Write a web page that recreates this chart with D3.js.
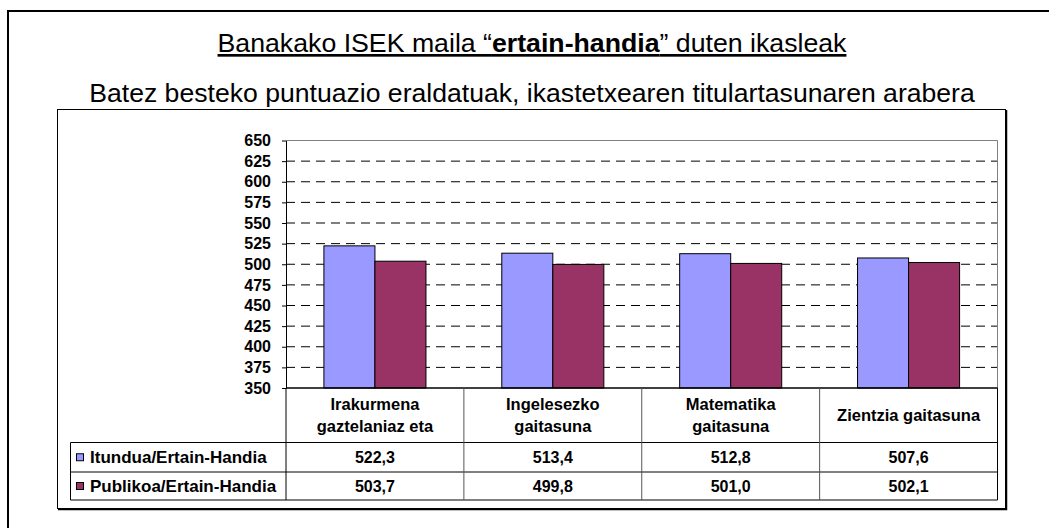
<!DOCTYPE html>
<html>
<head>
<meta charset="utf-8">
<script src="https://cdn.jsdelivr.net/npm/d3@7"></script>
<style>
  body { margin: 0; background: #fff; }
  svg { display: block; }
  text { font-family: "Liberation Sans", Arial, sans-serif; }
</style>
</head>
<body>
<svg id="chart" width="1049" height="528"></svg>
<script>
// data
var categories = [["Irakurmena", "gaztelaniaz eta"], ["Ingelesezko", "gaitasuna"], ["Matematika", "gaitasuna"], ["Zientzia gaitasuna"]];
var seriesNames = ["Itundua/Ertain-Handia", "Publikoa/Ertain-Handia"];
var itundua = [522.3, 513.4, 512.8, 507.6];
var publikoa = [503.7, 499.8, 501.0, 502.1];
var yTicks = [350, 375, 400, 425, 450, 475, 500, 525, 550, 575, 600, 625, 650];
var colors = ["#9999ff", "#993366"];

var series = [itundua, publikoa];
var catIdx = categories.map(function(d, i){ return i; });

var svg = d3.select('#chart');
svg.append('rect').attr('width', 1049).attr('height', 528).attr('fill', '#fff');

// outer frame (cut off at right/bottom)
svg.append('path').attr('d', 'M8,540 V11 H1060')
  .attr('fill', 'none').attr('stroke', '#000').attr('stroke-width', 2);

// titles
var title = svg.append('text').attr('x', 532).attr('y', 52).attr('text-anchor', 'middle')
  .style('font-size', '26.7px').style('text-decoration', 'underline');
title.append('tspan').text('Banakako ISEK maila “');
title.append('tspan').style('font-weight', 'bold').text('ertain-handia');
title.append('tspan').text('” duten ikasleak');

svg.append('text').attr('x', 532).attr('y', 102).attr('text-anchor', 'middle')
  .style('font-size', '26.6px').text('Batez besteko puntuazio eraldatuak, ikastetxearen titulartasunaren arabera');

// chart area box
svg.append('rect').attr('x', 57.5).attr('y', 109.5).attr('width', 948).attr('height', 399)
  .attr('fill', '#fff').attr('stroke', '#000').attr('stroke-width', 1);
svg.append('path').attr('d', 'M1006.5,110 V509.5 H58')
  .attr('fill', 'none').attr('stroke', '#000').attr('stroke-width', 1.5);

var plot = {left: 286, right: 997.5, top: 140.5, bottom: 388};

var x0 = d3.scaleBand().domain(catIdx).range([plot.left, plot.right]);
var x1 = d3.scaleBand().domain([0, 1]).range([0, x0.bandwidth()]).paddingOuter(0.743);
var y = d3.scaleLinear().domain([350, 650]).range([plot.bottom, plot.top]);

// gridlines
svg.append('g').selectAll('line')
  .data(yTicks.filter(function(t){ return t > 350 && t < 650; }))
  .enter().append('line')
  .attr('x1', plot.left).attr('x2', plot.right)
  .attr('y1', function(d){ return y(d); }).attr('y2', function(d){ return y(d); })
  .attr('stroke', '#000').attr('stroke-dasharray', '9,6');

// plot border top/right
svg.append('path')
  .attr('d', 'M' + plot.left + ',' + plot.top + ' H' + plot.right + ' V' + plot.bottom)
  .attr('fill', 'none').attr('stroke', '#808080').attr('stroke-width', 1);

// bars
var groups = svg.append('g').selectAll('g')
  .data(catIdx).enter().append('g')
  .attr('transform', function(i){ return 'translate(' + x0(i) + ',0)'; });
groups.selectAll('rect')
  .data(function(i){ return series.map(function(s, k){ return {k: k, v: s[i]}; }); })
  .enter().append('rect')
  .attr('x', function(d){ return x1(d.k); })
  .attr('width', x1.bandwidth())
  .attr('y', function(d){ return y(d.v); })
  .attr('height', function(d){ return y(350) - y(d.v); })
  .attr('fill', function(d){ return colors[d.k]; })
  .attr('stroke', '#000').attr('stroke-width', 1);

// y axis
var yAxis = svg.append('g').attr('transform', 'translate(' + plot.left + ',0)')
  .call(d3.axisLeft(y).tickValues(yTicks).tickSize(4).tickPadding(11).tickSizeOuter(0));
yAxis.select('.domain').attr('stroke', '#000');
yAxis.selectAll('.tick line').attr('stroke', '#000');
yAxis.selectAll('text').style('font-size', '16px').style('font-weight', 'bold')
  .style('font-family', '"Liberation Sans", Arial, sans-serif').attr('fill', '#000');

// data table
var rowTop = [388, 442.5, 472, 500];
var tableLeft = 70.5;
var fmt = function(v){ return d3.format('.1f')(v).replace('.', ','); };

var tbl = svg.append('g');
// horizontal lines
tbl.append('line').attr('x1', plot.left).attr('x2', plot.right).attr('y1', rowTop[0]).attr('y2', rowTop[0])
  .attr('stroke', '#000').attr('stroke-width', 1.5);
[1, 2, 3].forEach(function(r){
  tbl.append('line').attr('x1', tableLeft).attr('x2', plot.right)
    .attr('y1', rowTop[r]).attr('y2', rowTop[r]).attr('stroke', '#000');
});
// vertical lines
tbl.append('line').attr('x1', tableLeft).attr('x2', tableLeft).attr('y1', rowTop[1]).attr('y2', rowTop[3]).attr('stroke', '#000');
catIdx.concat([categories.length]).forEach(function(i){
  var xx = i < categories.length ? x0(i) : plot.right;
  tbl.append('line').attr('x1', xx).attr('x2', xx).attr('y1', rowTop[0]).attr('y2', rowTop[3])
    .attr('stroke', (i === 0 || i === categories.length) ? '#000' : '#555');
});

// header labels
categories.forEach(function(lines, i){
  var cx = x0(i) + x0.bandwidth() / 2;
  var cy = (rowTop[0] + rowTop[1]) / 2;
  lines.forEach(function(t, j){
    tbl.append('text').attr('x', cx).attr('y', cy + (j - (lines.length - 1) / 2) * 22)
      .attr('dy', '0.35em').attr('text-anchor', 'middle')
      .style('font-size', '16.5px').style('font-weight', 'bold').text(t);
  });
});

// series rows
seriesNames.forEach(function(name, k){
  var cy = (rowTop[k + 1] + rowTop[k + 2]) / 2;
  tbl.append('rect').attr('x', 76.5).attr('y', cy - 3.5).attr('width', 7).attr('height', 7)
    .attr('fill', colors[k]).attr('stroke', '#000').attr('stroke-width', 1);
  tbl.append('text').attr('x', 90).attr('y', cy).attr('dy', '0.35em')
    .style('font-size', '17px').style('font-weight', 'bold').text(name);
  series[k].forEach(function(v, i){
    tbl.append('text').attr('x', x0(i) + x0.bandwidth() / 2).attr('y', cy).attr('dy', '0.35em')
      .attr('text-anchor', 'middle').style('font-size', '16px').style('font-weight', 'bold').text(fmt(v));
  });
});
</script>
</body>
</html>
